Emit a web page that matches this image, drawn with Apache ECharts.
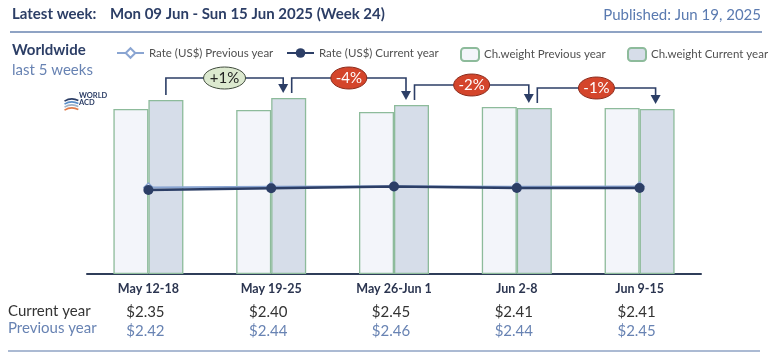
<!DOCTYPE html>
<html><head><meta charset="utf-8">
<script src="https://cdn.jsdelivr.net/npm/echarts@6/dist/echarts.min.js"></script>
<style>html,body{margin:0;padding:0;background:#fff}#c{width:770px;height:359px}</style>
</head><body><div id="c"></div>
<script>
// ---- data ----
const weeks = ['May 12-18', 'May 19-25', 'May 26-Jun 1', 'Jun 2-8', 'Jun 9-15'];
const rateCurrent = [2.35, 2.40, 2.45, 2.41, 2.41];
const ratePrevious = [2.42, 2.44, 2.46, 2.44, 2.45];
const weightPrevious = [165, 164, 162, 167, 166];
const weightCurrent = [174, 176, 169, 166, 165];
const weekChange = ['+1%', '-4%', '-2%', '-1%'];

const NAVY = '#2c3e66', LIGHTBLUE = '#6883b3', GREEN = '#8dbb9b';
const FONT = 'Lato';
const chart = echarts.init(document.getElementById('c'));

const legendText = { fontFamily: FONT, fontSize: 11.5, color: '#505050' };
function leg(name, left, w, h) {
  return { left: left, top: 42, itemWidth: w, itemHeight: h, textStyle: legendText, data: [name] };
}

const option = {
  animation: false,
  textStyle: { fontFamily: FONT },
  grid: { left: 87, right: 69, top: 74, bottom: 85 },
  legend: [
    leg('Rate (US$) Previous year', 111, 27, 12),
    leg('Rate (US$) Current year', 281, 27, 12),
    leg('Ch.weight Previous year', 455, 18, 13),
    leg('Ch.weight Current year', 622, 18, 13)
  ],
  xAxis: {
    type: 'category', data: weeks,
    axisLine: { lineStyle: { color: '#2f3d59', width: 2 } },
    axisTick: { show: false },
    axisLabel: {
      margin: 5, verticalAlign: 'top', interval: 0,
      formatter: (v, i) => '{a|' + v + '}\n{b|$' + rateCurrent[i].toFixed(2) + '}\n{c|$' + ratePrevious[i].toFixed(2) + '}',
      rich: {
        a: { fontFamily: FONT, fontWeight: 'bold', fontSize: 12.5, color: '#2b3550', lineHeight: 20 },
        b: { fontFamily: FONT, fontSize: 15, color: '#333', lineHeight: 27, padding: [0, 6, 0, 0] },
        c: { fontFamily: FONT, fontSize: 15, color: LIGHTBLUE, lineHeight: 10, padding: [0, 6, 0, 0] }
      }
    }
  },
  yAxis: [
    { type: 'value', min: 0, max: 200, show: false, splitLine: { show: false } },
    { type: 'value', min: 0, max: 5.6, show: false, splitLine: { show: false } }
  ],
  series: [
    { name: 'Ch.weight Previous year', type: 'bar', data: weightPrevious, barWidth: 35, barGap: '0%',
      itemStyle: { color: '#f3f5fa', borderColor: GREEN, borderWidth: 1.3 } },
    { name: 'Ch.weight Current year', type: 'bar', data: weightCurrent, barWidth: 35,
      itemStyle: { color: '#d6dde9', borderColor: GREEN, borderWidth: 1.3 } },
    { name: 'Rate (US$) Previous year', type: 'line', yAxisIndex: 1, data: ratePrevious, z: 5,
      symbol: 'diamond', symbolSize: 9,
      lineStyle: { color: '#8aa5d2', width: 2 },
      itemStyle: { color: '#fff', borderColor: '#8aa5d2', borderWidth: 1.5 } },
    { name: 'Rate (US$) Current year', type: 'line', yAxisIndex: 1, data: rateCurrent, z: 6,
      symbol: 'circle', symbolSize: 10,
      lineStyle: { color: NAVY, width: 2.5 },
      itemStyle: { color: NAVY } }
  ]
};
chart.setOption(option);

// ---- annotations derived from the chart's scales ----
const g = [];
// header
g.push({ type: 'text', left: 12, top: 7, style: { text: 'Latest week:', font: 'bold 15px ' + FONT, fill: NAVY } });
g.push({ type: 'text', left: 110, top: 7, style: { text: 'Mon 09 Jun - Sun 15 Jun 2025 (Week 24)', font: 'bold 15px ' + FONT, fill: NAVY } });
g.push({ type: 'text', right: 9, top: 8, style: { text: 'Published: Jun 19, 2025', font: '15px ' + FONT, fill: '#5a7ab0' } });
g.push({ type: 'line', shape: { x1: 10, y1: 32, x2: 762, y2: 32 }, style: { stroke: '#8fa3c4', lineWidth: 2 } });
g.push({ type: 'text', left: 12, top: 43, style: { text: 'Worldwide', font: 'bold 15px ' + FONT, fill: NAVY } });
g.push({ type: 'text', left: 12, top: 63, style: { text: 'last 5 weeks', font: '15px ' + FONT, fill: LIGHTBLUE } });
// logo
[['#2c3e66', 0], ['#5b8fc9', 3], ['#9fb3c8', 6], ['#e07b4a', 9]].forEach(([c, dy]) => {
  g.push({ type: 'arc', shape: { cx: 72, cy: 113 + dy, r: 14, startAngle: -Math.PI * 0.68, endAngle: -Math.PI * 0.35 },
    style: { stroke: c, lineWidth: 1.6, fill: 'none' } });
});
g.push({ type: 'text', left: 79, top: 92, style: { text: 'WORLD\nACD', font: 'bold 7.5px ' + FONT, fill: NAVY, lineHeight: 7 } });
// bottom rule & row headers
g.push({ type: 'line', shape: { x1: 8, y1: 351, x2: 760, y2: 351 }, style: { stroke: '#8fa3c4', lineWidth: 1.5 } });
g.push({ type: 'text', left: 8, top: 304, style: { text: 'Current year', font: '15px ' + FONT, fill: '#333' } });
g.push({ type: 'text', left: 8, top: 321, style: { text: 'Previous year', font: '15px ' + FONT, fill: LIGHTBLUE } });

// week-on-week brackets
const bw = 35;
for (let i = 0; i < weekChange.length; i++) {
  const c0 = chart.convertToPixel({ xAxisIndex: 0 }, weeks[i]);
  const c1 = chart.convertToPixel({ xAxisIndex: 0 }, weeks[i + 1]);
  const top0 = chart.convertToPixel({ yAxisIndex: 0 }, weightCurrent[i]);
  const top1 = chart.convertToPixel({ yAxisIndex: 0 }, weightCurrent[i + 1]);
  const lvl = Math.min(top0, top1) - 20;
  const xs = c0 + bw / 2 + (i === 0 ? 0 : 3);
  const xe = c1 + 12 + (i === weekChange.length - 1 ? 4 : 0);
  g.push({ type: 'polyline', z: 10, shape: { points: [[xs, top0 - 5], [xs, lvl], [xe, lvl], [xe, top1 - 13]] },
    style: { stroke: NAVY, lineWidth: 1.6, fill: 'none' } });
  g.push({ type: 'polygon', z: 10, shape: { points: [[xe - 5, top1 - 14], [xe + 5, top1 - 14], [xe, top1 - 5]] },
    style: { fill: NAVY } });
  const pos = weekChange[i].startsWith('+');
  const mx = (xs + xe) / 2;
  g.push({ type: 'ellipse', z: 11, shape: { cx: mx, cy: lvl, rx: pos ? 21 : 18, ry: 11 },
    style: { fill: pos ? '#dce9cf' : '#d4452b', stroke: pos ? '#3f4a3c' : '#8a2b1c', lineWidth: 1 } });
  g.push({ type: 'text', z: 12, x: mx, y: lvl, style: { text: weekChange[i], font: '15px ' + FONT,
    fill: pos ? '#222' : '#fff', align: 'center', verticalAlign: 'middle' } });
}
chart.setOption({ graphic: g });
</script></body></html>
